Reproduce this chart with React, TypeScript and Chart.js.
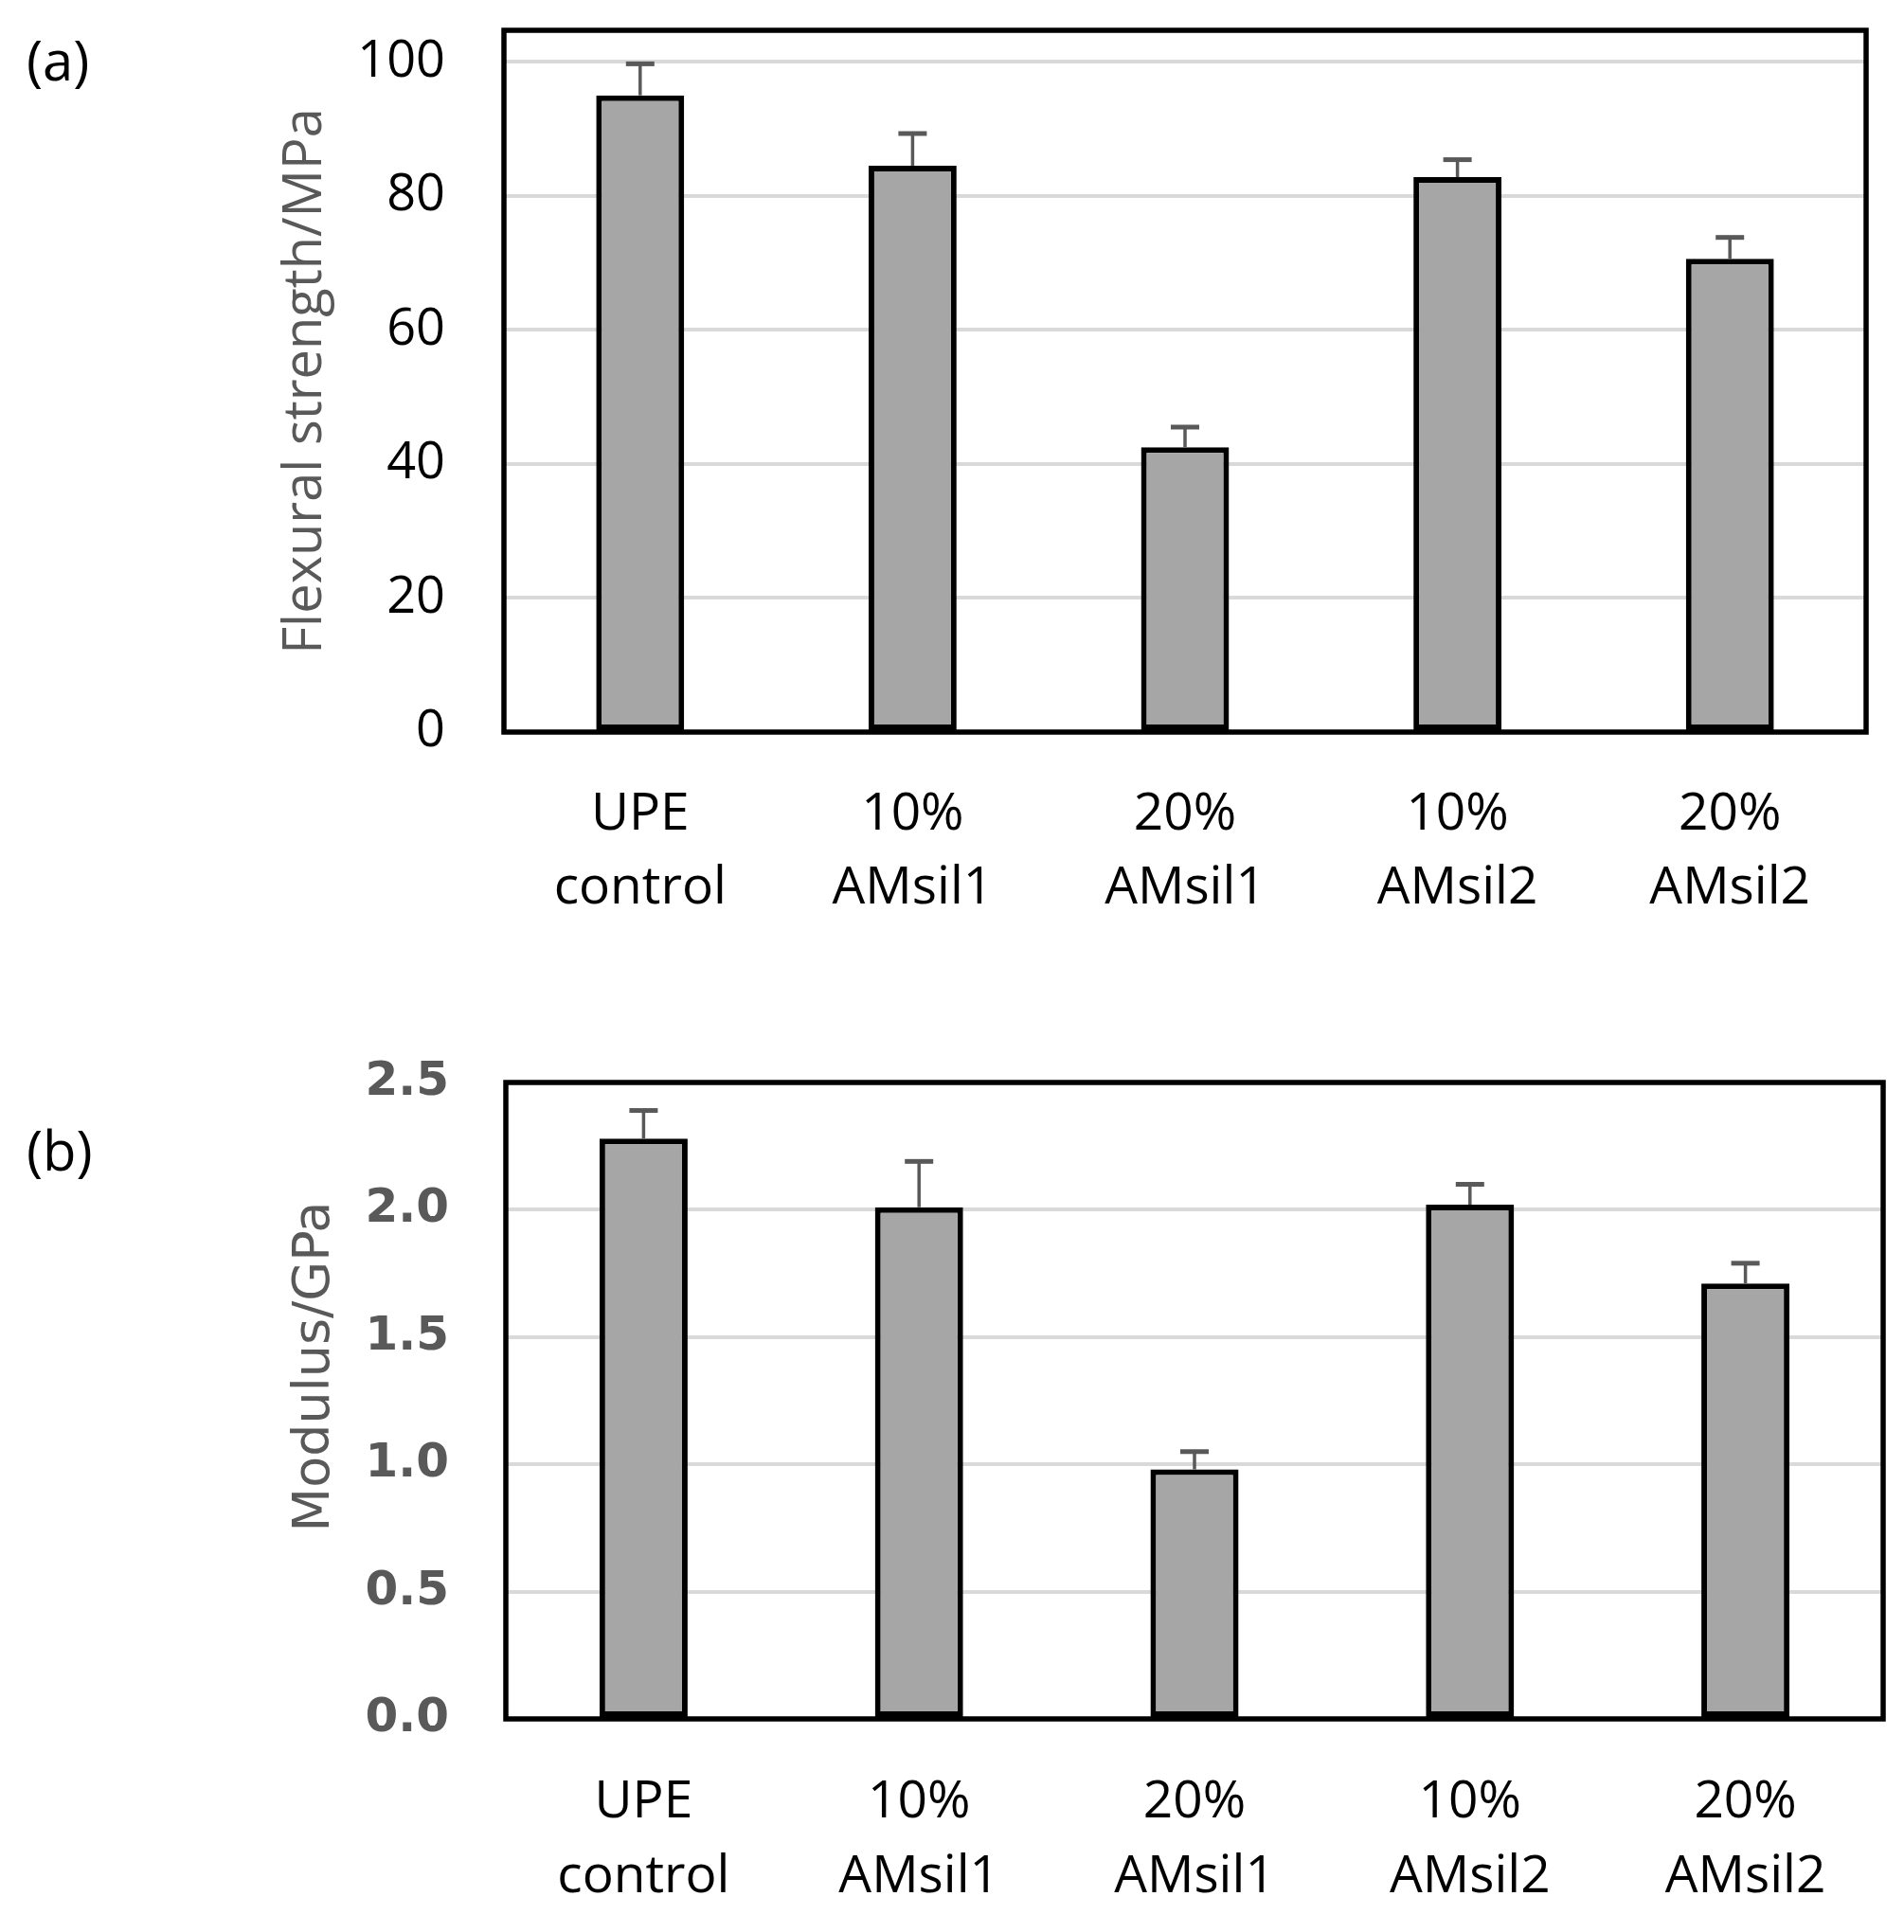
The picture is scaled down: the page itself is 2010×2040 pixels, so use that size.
import React, { useEffect, useRef } from 'react';
import { Chart, registerables } from 'chart.js';

Chart.register(...registerables);

// ---------- data ----------
const categories: string[][] = [
  ['UPE', 'control'],
  ['10%', 'AMsil1'],
  ['20%', 'AMsil1'],
  ['10%', 'AMsil2'],
  ['20%', 'AMsil2'],
];
const flexuralValues = [95, 84.5, 42.5, 82.8, 70.6];
const flexuralErrors = [4.7, 4.8, 3.0, 2.6, 3.2];
const modulusValues = [2.28, 2.01, 0.98, 2.02, 1.71];
const modulusErrors = [0.11, 0.18, 0.07, 0.08, 0.08];
const flexuralTicks = [0, 20, 40, 60, 80, 100];
const modulusTicks = [0, 0.5, 1.0, 1.5, 2.0, 2.5];

const BAR_FILL = '#a6a6a6';
const GRID = '#d9d9d9';
const GRAY_TEXT = '#595959';

function makeErrorPlugin(values: number[], errors: number[]) {
  return {
    id: 'errorBars',
    afterDatasetsDraw(chart: any) {
      const { ctx } = chart;
      const meta = chart.getDatasetMeta(0);
      const ys = chart.scales.y;
      ctx.save();
      ctx.strokeStyle = GRAY_TEXT;
      ctx.lineCap = 'butt';
      meta.data.forEach((bar: any, i: number) => {
        const yBar = ys.getPixelForValue(values[i]);
        const yTop = ys.getPixelForValue(values[i] + errors[i]);
        ctx.lineWidth = 3.5;
        ctx.beginPath();
        ctx.moveTo(bar.x, yBar);
        ctx.lineTo(bar.x, yTop);
        ctx.stroke();
        ctx.lineWidth = 5;
        ctx.beginPath();
        ctx.moveTo(bar.x - 15, yTop);
        ctx.lineTo(bar.x + 15, yTop);
        ctx.stroke();
      });
      ctx.restore();
    },
  };
}

function makeTitlePlugin(text: string, font: string, centerX: number, shiftY: number) {
  return {
    id: 'yTitle',
    afterDraw(chart: any) {
      const { ctx, chartArea } = chart;
      const cy = (chartArea.top + chartArea.bottom) / 2 + shiftY;
      ctx.save();
      ctx.translate(centerX, cy);
      ctx.rotate(-Math.PI / 2);
      ctx.font = font;
      ctx.fillStyle = GRAY_TEXT;
      ctx.textAlign = 'center';
      ctx.textBaseline = 'middle';
      ctx.fillText(text, 0, 0);
      ctx.restore();
    },
  };
}

const framePlugin = {
  id: 'frame',
  afterDatasetsDraw(chart: any) {
    const { ctx, chartArea } = chart;
    ctx.save();
    ctx.strokeStyle = '#000';
    ctx.lineWidth = 5.5;
    ctx.strokeRect(
      chartArea.left,
      chartArea.top,
      chartArea.right - chartArea.left,
      chartArea.bottom - chartArea.top
    );
    ctx.restore();
  },
};

interface PanelProps {
  width: number;
  height: number;
  top: number;
  values: number[];
  errors: number[];
  ticks: number[];
  yMax: number;
  yTitle: string;
  padTop: number;
  padRight: number;
  yAxisWidth: number;
  xAxisHeight: number;
  yTickFont: any;
  yTickColor: string;
  yTickPadding: number;
  yTickDecimals: number;
  titleFont: string;
  titleX: number;
  titleShiftY: number;
  xPad: number;
  xLineHeight: number;
  barPct: number;
}

function Panel(p: PanelProps) {
  const ref = useRef<HTMLCanvasElement | null>(null);
  useEffect(() => {
    if (!ref.current) return;
    const chart = new Chart(ref.current, {
      type: 'bar',
      data: {
        labels: categories,
        datasets: [
          {
            data: p.values,
            backgroundColor: BAR_FILL,
            borderColor: '#000',
            borderWidth: 6,
            borderSkipped: false,
            barPercentage: p.barPct,
            categoryPercentage: 1,
          },
        ],
      },
      options: {
        animation: false,
        responsive: false,
        devicePixelRatio: 1,
        layout: { padding: { top: p.padTop, right: p.padRight, left: 0, bottom: 0 } },
        plugins: { legend: { display: false }, tooltip: { enabled: false } },
        scales: {
          x: {
            grid: { display: false },
            border: { display: false },
            ticks: {
              color: '#000',
              font: { family: 'Open Sans', size: 55, lineHeight: p.xLineHeight },
              padding: p.xPad,
              maxRotation: 0,
              autoSkip: false,
            },
            afterFit: (s: any) => {
              s.height = p.xAxisHeight;
              s.paddingLeft = 0;
              s.paddingRight = 0;
            },
          },
          y: {
            min: 0,
            max: p.yMax,
            bounds: 'data',
            afterBuildTicks: (s: any) => {
              s.ticks = p.ticks.map((v) => ({ value: v }));
            },
            grid: { color: GRID, lineWidth: 4, drawTicks: false },
            border: { display: false },
            ticks: {
              color: p.yTickColor,
              font: p.yTickFont,
              padding: p.yTickPadding,
              callback: (v: any) => Number(v).toFixed(p.yTickDecimals),
            },
            afterFit: (s: any) => {
              s.width = p.yAxisWidth;
              s.paddingTop = 0;
              s.paddingBottom = 0;
            },
          },
        },
      } as any,
      plugins: [
        makeErrorPlugin(p.values, p.errors),
        framePlugin,
        makeTitlePlugin(p.yTitle, p.titleFont, p.titleX, p.titleShiftY),
      ],
    });
    return () => chart.destroy();
  }, []);
  return (
    <canvas
      ref={ref}
      width={p.width}
      height={p.height}
      style={{ position: 'absolute', left: 0, top: p.top, width: p.width, height: p.height }}
    />
  );
}

export default function App() {
  useEffect(() => {
    document.body.style.margin = '0';
    document.body.style.background = '#fff';
  }, []);
  const labelStyle: any = {
    position: 'absolute',
    left: 28,
    fontFamily: 'Open Sans',
    fontSize: 58,
    lineHeight: '58px',
    color: '#000',
  };
  return (
    <div style={{ position: 'relative', width: 2010, height: 2040, background: '#fff' }}>
      <div style={{ ...labelStyle, top: 34 }}>(a)</div>
      <div style={{ ...labelStyle, top: 1185 }}>(b)</div>
      <Panel
        width={2010}
        height={1010}
        top={0}
        values={flexuralValues}
        errors={flexuralErrors}
        ticks={flexuralTicks}
        yMax={104.7}
        yTitle="Flexural strength/MPa"
        padTop={32}
        padRight={40}
        yAxisWidth={532}
        xAxisHeight={237}
        yTickFont={{ family: 'Open Sans', size: 54 }}
        yTickColor="#000"
        yTickPadding={62}
        yTickDecimals={0}
        titleFont="56px 'Open Sans'"
        titleX={323}
        titleShiftY={0}
        xPad={40}
        xLineHeight={1.42}
        barPct={0.323}
      />
      <Panel
        width={2010}
        height={1030}
        top={1010}
        values={modulusValues}
        errors={modulusErrors}
        ticks={modulusTicks}
        yMax={2.5}
        yTitle="Modulus/GPa"
        padTop={133}
        padRight={22}
        yAxisWidth={534}
        xAxisHeight={225}
        yTickFont={{ family: 'DejaVu Sans', size: 50, weight: 'bold' }}
        yTickColor={GRAY_TEXT}
        yTickPadding={60}
        yTickDecimals={1}
        titleFont="54px 'DejaVu Sans'"
        titleX={333}
        titleShiftY={-36}
        xPad={41}
        xLineHeight={1.436}
        barPct={0.32}
      />
    </div>
  );
}
